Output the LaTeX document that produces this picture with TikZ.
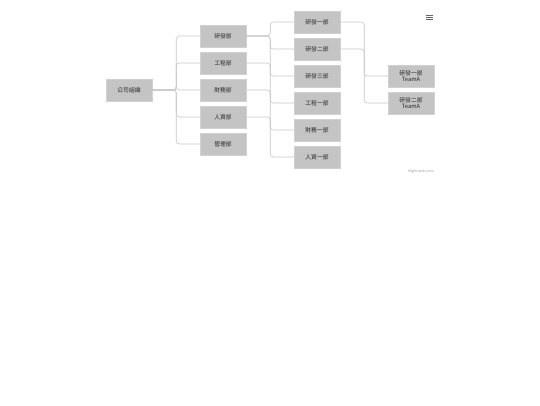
\documentclass[tikz,border=0pt]{standalone}
\usepackage{fontspec}
\setmainfont{Noto Sans CJK TC}
\begin{document}
\begin{tikzpicture}[x=1pt,y=-1pt,
  box/.style={draw=black!18,fill=black!23,minimum width=46pt,minimum height=22pt,inner sep=0pt,align=center,font=\fontsize{5.8}{6.2}\selectfont,text=black!85},
  link/.style={draw=black!22,line width=0.6pt,rounded corners=3pt}]
\useasboundingbox[fill=white] (0,0) rectangle (540,405);
\node[box] (root) at (129,90) {公司組織};
\node[box] (d1) at (223,36) {研發部};
\node[box] (d2) at (223,63) {工程部};
\node[box] (d3) at (223,90) {財務部};
\node[box] (d4) at (223,117) {人資部};
\node[box] (d5) at (223,144) {管理部};
\node[box] (e1) at (317,22) {研發一部};
\node[box] (e2) at (317,49) {研發二部};
\node[box] (e3) at (317,76) {研發三部};
\node[box] (e4) at (317,103) {工程一部};
\node[box] (e5) at (317,130) {財務一部};
\node[box] (e6) at (317,157) {人資一部};
\node[box] (f1) at (411,76) {研發一部\\TeamA};
\node[box] (f2) at (411,103) {研發二部\\TeamA};
\foreach \c in {d1,d2,d3,d4,d5}
  \draw[link] (root.east) -- ++(24,0) |- (\c.west);
\foreach \c in {e1,e2,e3}
  \draw[link] (d1.east) -- ++(24,0) |- (\c.west);
\draw[link] (d2.east) -- ++(24,0) |- (e4.west);
\draw[link] (d3.east) -- ++(24,0) |- (e5.west);
\draw[link] (d4.east) -- ++(24,0) |- (e6.west);
\draw[link] (e1.east) -- ++(24,0) |- (f1.west);
\draw[link] (e2.east) -- ++(24,0) |- (f2.west);
\node[inner sep=0pt] (menu) at (429,17) {\tikz[x=1pt,y=1pt]{\foreach \yy in {0,2,4} \draw[black!60,line width=0.8pt] (0,\yy) -- (7,\yy);}};
\node[inner sep=0pt,text=black!40,font=\fontsize{3.5}{4}\selectfont] (credit) at (421,172) {Highcharts.com};
\end{tikzpicture}
\end{document}
